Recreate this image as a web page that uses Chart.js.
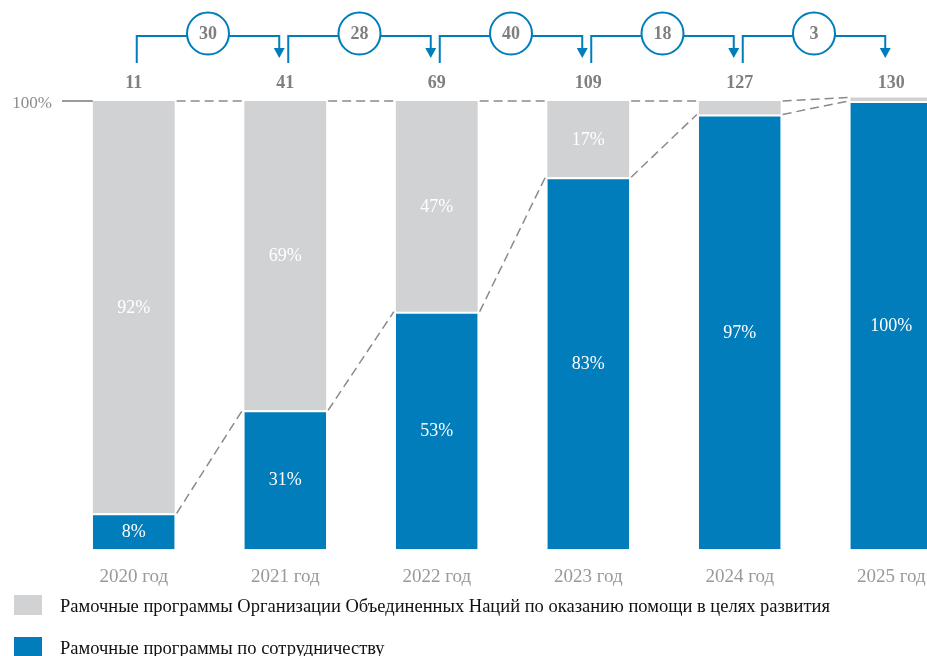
<!DOCTYPE html>
<html>
<head>
<meta charset="utf-8">
<script src="https://cdn.jsdelivr.net/npm/chart.js@4.4.1/dist/chart.umd.min.js"></script>
<style>
	html, body { margin: 0; padding: 0; background: #fff; overflow: hidden; }
	#wrap { width: 968px; height: 656px; }
</style>
</head>
<body>
<div id="wrap"><canvas id="myChart"></canvas></div>
<script>
	// --- data ---
	var years = ['2020 год', '2021 год', '2022 год', '2023 год', '2024 год', '2025 год'];
	var coopShare = [8, 31, 53, 83, 97, 100];
	var undafShare = [92, 69, 47, 17, 3, 0.8];
	var totals = [11, 41, 69, 109, 127, 130];
	var added = [30, 28, 40, 18, 3];
	var yTicks = [0, 100];

	var BLUE = '#007dba';
	var GREY = '#d1d2d4';
	var SERIF = "'Liberation Serif', 'DejaVu Serif', serif";

	// --- extras drawn over the bars ---
	var extrasPlugin = {
		id: 'extras',
		afterDatasetsDraw: function(chart) {
			var ctx = chart.ctx;
			var yScale = chart.scales.y;
			var blue = chart.getDatasetMeta(0).data;
			var grey = chart.getDatasetMeta(1).data;
			var top = yScale.getPixelForValue(100);

			ctx.save();

			// line from the 100% tick to the first bar
			ctx.strokeStyle = '#7a7a7a';
			ctx.lineWidth = 1.5;
			ctx.beginPath();
			ctx.moveTo(chart.chartArea.left + 4, top);
			ctx.lineTo(blue[0].x - blue[0].width / 2, top);
			ctx.stroke();

			// dashed connectors between bars
			ctx.setLineDash([9, 5]);
			ctx.strokeStyle = '#8a8a8a';
			ctx.lineWidth = 1.5;
			for (var i = 0; i < blue.length - 1; i++) {
				var a = blue[i], b = blue[i + 1];
				ctx.beginPath();
				ctx.moveTo(a.x + a.width / 2 + 2, a.y);
				ctx.lineTo(b.x - b.width / 2 - 2, b.y);
				ctx.stroke();
				var ga = grey[i], gb = grey[i + 1];
				ctx.beginPath();
				ctx.moveTo(ga.x + ga.width / 2 + 2, ga.y);
				ctx.lineTo(gb.x - gb.width / 2 - 2, gb.y);
				ctx.stroke();
			}
			ctx.setLineDash([]);

			// percentages inside the segments
			ctx.fillStyle = '#ffffff';
			ctx.font = '18px ' + SERIF;
			ctx.textAlign = 'center';
			ctx.textBaseline = 'middle';
			blue.forEach(function(el, i) {
				ctx.fillText(coopShare[i] + '%', el.x, (el.y + el.base) / 2 + 1);
			});
			grey.forEach(function(el, i) {
				if (undafShare[i] >= 10) {
					ctx.fillText(undafShare[i] + '%', el.x, (el.y + el.base) / 2 + 1);
				}
			});

			// totals above bars
			ctx.fillStyle = '#7f7f7f';
			ctx.font = 'bold 18px ' + SERIF;
			blue.forEach(function(el, i) {
				ctx.fillText(totals[i], el.x, top - 18);
			});

			// arrows with increments
			ctx.strokeStyle = BLUE;
			ctx.fillStyle = BLUE;
			ctx.lineWidth = 2;
			for (var k = 0; k < added.length; k++) {
				var x1 = blue[k].x + 3;
				var x2 = blue[k + 1].x - 6;
				var yl = top - 65;
				ctx.beginPath();
				ctx.moveTo(x1, top - 38);
				ctx.lineTo(x1, yl);
				ctx.lineTo(x2, yl);
				ctx.lineTo(x2, top - 52);
				ctx.stroke();
				ctx.beginPath();
				ctx.moveTo(x2 - 5.5, top - 53);
				ctx.lineTo(x2 + 5.5, top - 53);
				ctx.lineTo(x2, top - 43);
				ctx.closePath();
				ctx.fill();

				var cx = (x1 + x2) / 2;
				var cy = top - 67.5;
				ctx.beginPath();
				ctx.arc(cx, cy, 21, 0, Math.PI * 2);
				ctx.fillStyle = '#ffffff';
				ctx.fill();
				ctx.stroke();
				ctx.fillStyle = '#7f7f7f';
				ctx.font = 'bold 18px ' + SERIF;
				ctx.fillText(added[k], cx, cy + 1);
				ctx.fillStyle = BLUE;
			}
			ctx.restore();
		},
		// legend in two rows at the bottom
		afterDraw: function(chart) {
			var ctx = chart.ctx;
			var sets = chart.data.datasets.slice().reverse();
			ctx.save();
			ctx.font = '18.5px ' + SERIF;
			ctx.textAlign = 'left';
			ctx.textBaseline = 'middle';
			sets.forEach(function(ds, i) {
				var y = 595 + i * 42;
				ctx.fillStyle = ds.backgroundColor;
				ctx.fillRect(14, y, 28, 20);
				ctx.fillStyle = '#111111';
				ctx.fillText(ds.label, 60, y + 12);
			});
			ctx.restore();
		}
	};

	var data = {
		labels: years,
		datasets: [{
			label: 'Рамочные программы по сотрудничеству',
			data: coopShare,
			backgroundColor: BLUE,
			borderColor: '#ffffff',
			borderWidth: { top: 2 },
			borderSkipped: 'bottom',
			clip: false
		}, {
			label: 'Рамочные программы Организации Объединенных Наций по оказанию помощи в целях развития',
			data: undafShare,
			backgroundColor: GREY,
			borderWidth: 0,
			clip: false
		}]
	};

	var config = {
		type: 'bar',
		data: data,
		plugins: [extrasPlugin],
		options: {
			responsive: true,
			maintainAspectRatio: false,
			animation: false,
			layout: {
				padding: { top: 101, right: 1, bottom: 52, left: 0 }
			},
			datasets: {
				bar: { categoryPercentage: 1, barPercentage: 0.54 }
			},
			plugins: {
				legend: { display: false },
				tooltip: { enabled: false }
			},
			scales: {
				x: {
					stacked: true,
					grid: { display: false, drawTicks: false },
					border: { display: false },
					ticks: {
						color: '#999999',
						padding: 16,
						font: { family: SERIF, size: 19 }
					}
				},
				y: {
					stacked: true,
					min: 0,
					max: 100,
					afterBuildTicks: function(scale) {
						scale.ticks = yTicks.map(function(v) { return { value: v }; });
					},
					afterFit: function(scale) { scale.width = 58; },
					grid: { display: false, drawTicks: false },
					border: { display: false },
					ticks: {
						color: '#8c8c8c',
						padding: 6,
						labelOffset: 3,
						font: { family: SERIF, size: 17 },
						callback: function(v) { return v === 100 ? '100%' : ''; }
					}
				}
			}
		}
	};

	var myChart = new Chart(document.getElementById('myChart'), config);
</script>
</body>
</html>
